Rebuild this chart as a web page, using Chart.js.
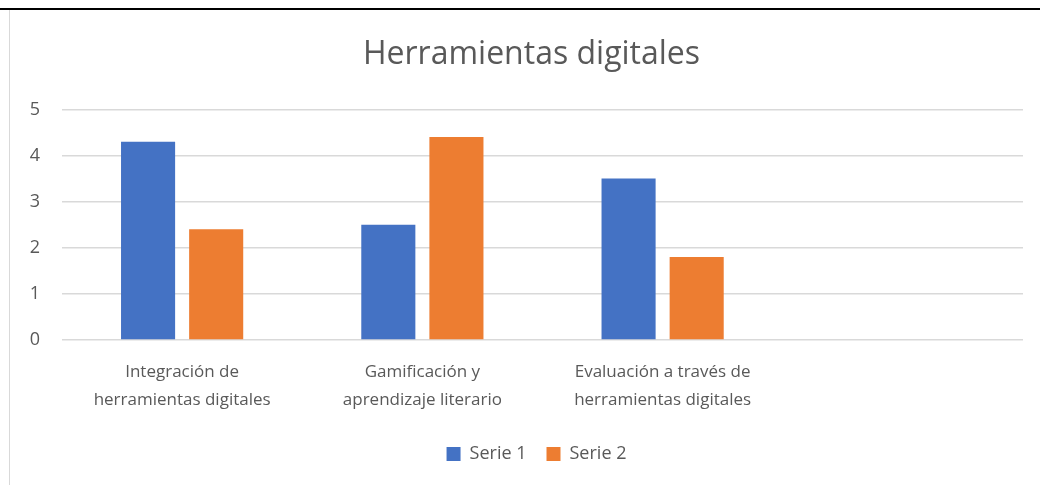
<!DOCTYPE html>
<html>
<head>
<meta charset="utf-8">
<script src="https://cdn.jsdelivr.net/npm/chart.js@4"></script>
<style>
  html, body { margin: 0; padding: 0; background: #fff; }
  #wrap { position: relative; width: 1040px; height: 485px; }
  #topline { position: absolute; left: 0; top: 8px; width: 1040px; height: 2px; background: #000; }
  #leftline { position: absolute; left: 9px; top: 10px; width: 1px; height: 475px; background: #d9d9d9; }
  canvas { position: absolute; left: 0; top: 0; }
</style>
</head>
<body>
<div id="wrap">
  <canvas id="chart" width="1040" height="485"></canvas>
  <div id="topline"></div>
  <div id="leftline"></div>
</div>
<script>
// Chart data
const categories = [
    ['Integración de', 'herramientas digitales'],
    ['Gamificación y', 'aprendizaje literario'],
    ['Evaluación a través de', 'herramientas digitales'],
    ''
];
const serie1 = [4.3, 2.5, 3.5, null];
const serie2 = [2.4, 4.4, 1.8, null];
const yTicks = [0, 1, 2, 3, 4, 5];

const textColor = '#595959';
const fontFamily = '"Open Sans", sans-serif';

// nudge title and legend to the right, like the original
const shiftBoxes = {
    id: 'shiftBoxes',
    afterLayout(chart) {
        if (chart.titleBlock) { chart.titleBlock.left += 10; chart.titleBlock.right += 10; }
        if (chart.legend) { chart.legend.left += 15; chart.legend.right += 15; }
    }
};

const ctx = document.getElementById('chart').getContext('2d');
new Chart(ctx, {
    type: 'bar',
    data: {
        labels: categories,
        datasets: [
            { label: 'Serie 1', data: serie1, backgroundColor: '#4472c4' },
            { label: 'Serie 2', data: serie2, backgroundColor: '#ed7d31' }
        ]
    },
    plugins: [shiftBoxes],
    options: {
        responsive: false,
        animation: false,
        datasets: { bar: { categoryPercentage: 0.567, barPercentage: 0.794 } },
        layout: { padding: { left: 20, right: 17, top: 36, bottom: 12 } },
        scales: {
            x: {
                grid: { display: false },
                border: { display: false },
                afterFit: (axis) => { axis.height += 1; },
                ticks: { color: textColor, font: { family: fontFamily, size: 17, lineHeight: 1.65 }, padding: 10, maxRotation: 0, autoSkip: false }
            },
            y: {
                min: 0, max: 5,
                afterBuildTicks: (axis) => { axis.ticks = yTicks.map(v => ({ value: v })); },
                afterFit: (axis) => { axis.width = 42; },
                grid: { color: '#d9d9d9', lineWidth: 1.5, drawTicks: false },
                border: { display: false },
                ticks: { color: textColor, font: { family: fontFamily, size: 18 }, padding: 22 }
            }
        },
        plugins: {
            title: {
                display: true,
                text: 'Herramientas digitales',
                color: textColor,
                font: { family: fontFamily, size: 32, weight: 'normal' },
                padding: { top: 0, bottom: 35 }
            },
            legend: {
                position: 'bottom',
                labels: { color: textColor, font: { family: fontFamily, size: 18 }, boxWidth: 14, boxHeight: 14, padding: 20 }
            },
            tooltip: { enabled: false }
        }
    }
});
</script>
</body>
</html>
